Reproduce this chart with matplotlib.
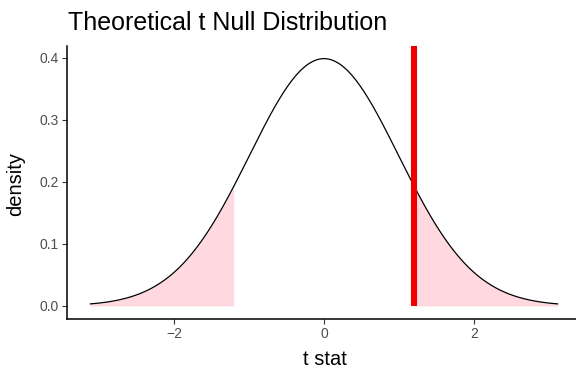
import math
import numpy as np
import matplotlib
matplotlib.use("Agg")
import matplotlib.pyplot as plt

plt.rcParams['font.family'] = ['Liberation Sans', 'DejaVu Sans']

# theoretical null distribution settings
df = 250
x_range = [-3.12, 3.12]
obs_stat = 1.2
x_ticks = [-2, 0, 2]
x_tick_labels = ["\u22122", "0", "2"]
y_ticks = [0.0, 0.1, 0.2, 0.3, 0.4]
y_tick_labels = ["0.0", "0.1", "0.2", "0.3", "0.4"]


def t_pdf(x, nu):
    c = math.gamma((nu + 1) / 2) / (math.sqrt(nu * math.pi) * math.gamma(nu / 2))
    return c * (1 + x ** 2 / nu) ** (-(nu + 1) / 2)


x = np.linspace(x_range[0], x_range[1], 500)
y = t_pdf(x, df)

fig = plt.figure(figsize=(5.76, 3.69), dpi=100)
ax = fig.add_axes([67 / 576, 1 - 319 / 369, 514 / 576, 273 / 369])

"shade both tails beyond the observed statistic"
left = x <= -abs(obs_stat)
right = x >= abs(obs_stat)
ax.fill_between(x[left], 0, y[left], color="pink", alpha=0.6, linewidth=0)
ax.fill_between(x[right], 0, y[right], color="pink", alpha=0.6, linewidth=0)

ax.plot(x, y, color="black", lw=0.9)

ymax = 0.4189
ax.plot([obs_stat, obs_stat], [0, ymax], color="#EE0000", lw=4.4, solid_capstyle="butt", clip_on=False)

span = x_range[1] - x_range[0]
ax.set_xlim(x_range[0] - 0.05 * span, x_range[1] + 0.05 * span)
ax.set_ylim(-0.021, ymax)

ax.set_xticks(x_ticks)
ax.set_xticklabels(x_tick_labels)
ax.set_yticks(y_ticks)
ax.set_yticklabels(y_tick_labels)
ax.tick_params(direction="out", length=3.5, width=0.8, color="#333333",
               labelcolor="#4D4D4D", labelsize=10, pad=2.5)

for s in ["top", "right"]:
    ax.spines[s].set_visible(False)
for s in ["left", "bottom"]:
    ax.spines[s].set_linewidth(1.1)
    ax.spines[s].set_color("black")

"axis titles and plot title"
fig.text(324.5 / 576, 1 - 365 / 369, "t stat", fontsize=14.5, ha="center", va="baseline")
fig.text(21 / 576, 1 - 183.5 / 369, "density", fontsize=14.5, rotation=90,
         rotation_mode="anchor", ha="center", va="baseline")
fig.text(68 / 576, 1 - 30 / 369, "Theoretical t Null Distribution", fontsize=18, ha="left", va="baseline")

fig.savefig("out.png", dpi=100)
